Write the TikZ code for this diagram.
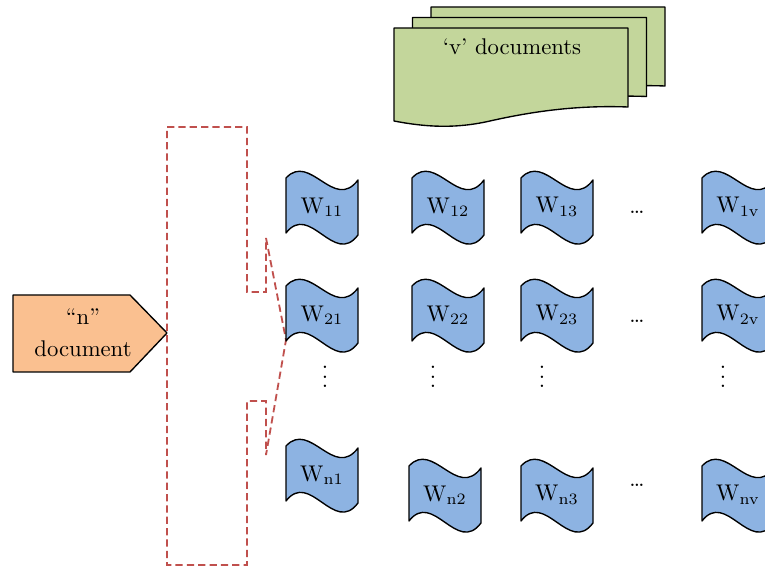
\documentclass[tikz,border=0pt]{standalone}
\definecolor{flagblue}{HTML}{8DB3E2}
\definecolor{docgreen}{HTML}{C3D69B}
\definecolor{nodeorange}{HTML}{FAC090}
\definecolor{dashred}{HTML}{C0504D}
\tikzset{
  outline/.style={draw=black, line width=0.6pt, line join=round},
  wflag/.style={outline, fill=flagblue},
  wlabel/.style={inner sep=0pt, font=\normalsize},
  docsheet/.style={outline, fill=docgreen},
  brace/.style={draw=dashred, line width=0.8pt, dash pattern=on 3.2pt off 1.8pt},
  dotlabel/.style={inner sep=0pt}
}
\newcommand\wflagnode[3]{%
  \draw[wflag, shift={#2}] (-36,-29) .. controls (-12,-55) and (12,5) .. (36,-27)
     -- (36,28) .. controls (12,60) and (-12,-5) .. (-36,26) -- cycle;
  \node[wlabel] (#1) at #2 {W\textsubscript{#3}};
}
\newcommand\docsheetpath[1]{%
  \draw[docsheet, shift={#1}] (394,28) -- (628,28) -- (628,107)
     .. controls (575,105) and (530,112) .. (490,121)
     .. controls (455,129) and (425,127) .. (394,121) -- cycle;
}
\begin{document}
\begin{tikzpicture}[x=0.4405pt, y=-0.4405pt]
\useasboundingbox (0,0) rectangle (765,566);
\clip (0,0) rectangle (765,566);

% 'v' documents stack
\docsheetpath{(37,-21)}
\docsheetpath{(18.5,-10.5)}
\docsheetpath{(0,0)}
\node[wlabel] (vdocs) at (512,47) {`v' documents};

% "n" document
\draw[outline, fill=nodeorange] (13,295) -- (130,295) -- (167,333) -- (130,372) -- (13,372) -- cycle;
\node[wlabel, align=center] (ndoc) at (83,333) {``n''\\[2pt]document};

% dashed brace
\draw[brace] (167,127) -- (247,127) -- (247,292) -- (266,292) -- (266,238)
  -- (286,340) -- (266,455) -- (266,401) -- (247,401) -- (247,565)
  -- (167,565) -- cycle;

% W flags
\wflagnode{w11}{(322,207)}{11}
\wflagnode{w12}{(448,207)}{12}
\wflagnode{w13}{(557,207)}{13}
\wflagnode{w1v}{(738,207)}{1v}
\wflagnode{w21}{(322,315)}{21}
\wflagnode{w22}{(448,315)}{22}
\wflagnode{w23}{(557,315)}{23}
\wflagnode{w2v}{(738,315)}{2v}
\wflagnode{wn1}{(322,475)}{n1}
\wflagnode{wn2}{(445,495)}{n2}
\wflagnode{wn3}{(557,495)}{n3}
\wflagnode{wnv}{(738,495)}{nv}

% dots
\node[dotlabel] (hd1) at (637,212) {\dots};
\node[dotlabel] (hd2) at (637,321) {\dots};
\node[dotlabel] (hdn) at (637,485) {\dots};
\node[dotlabel] (vd1) at (325,370) {$\vdots$};
\node[dotlabel] (vd2) at (433,370) {$\vdots$};
\node[dotlabel] (vd3) at (542,370) {$\vdots$};
\node[dotlabel] (vdv) at (723,370) {$\vdots$};
\end{tikzpicture}
\end{document}
